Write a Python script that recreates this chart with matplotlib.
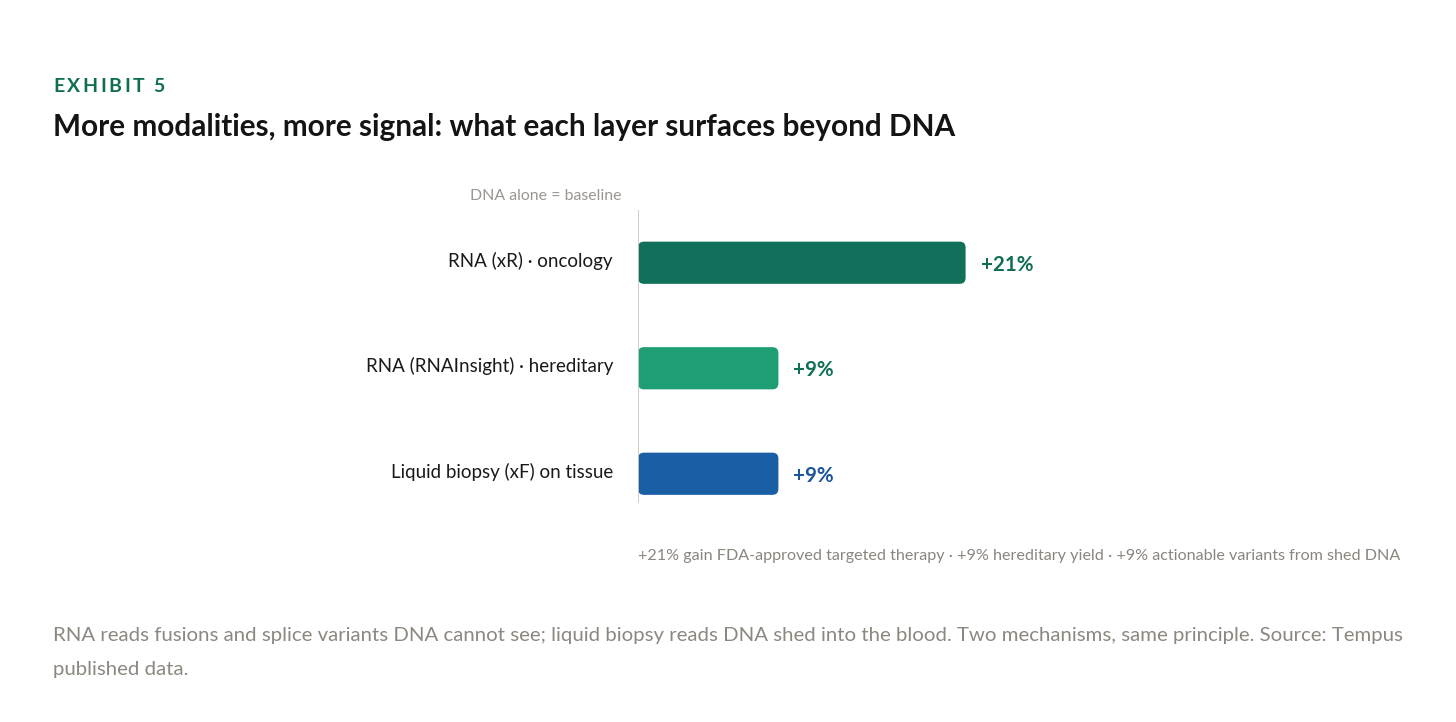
import matplotlib.pyplot as plt
from matplotlib.patches import FancyBboxPatch

plt.rcParams['font.family'] = ['Lato', 'DejaVu Sans']

categories = ["RNA (xR) \u00b7 oncology", "RNA (RNAInsight) \u00b7 hereditary", "Liquid biopsy (xF) on tissue"]
gains = [21, 9, 9]
value_labels = ["+21%", "+9%", "+9%"]
bar_colors = ["#10705a", "#1d9e75", "#1a5ea6"]
text_colors = ["#0f6e56", "#0f6e56", "#1a559b"]

W, H = 1456, 722
fig = plt.figure(figsize=(W / 100, H / 100), dpi=100)

def fy(py):
    return 1 - py / H

# axes: baseline at x=638px, rows 105.5px apart
px_per_unit = 15.6
ax = fig.add_axes([638 / W, fy(526.5), 1 - 638 / W, 316.5 / H])
ax.set_xlim(0, (W - 638) / px_per_unit)
ax.set_ylim(2.5, -0.5)
ax.axis("off")

bar_h = 0.4
r_px = 6
aspect = px_per_unit / 105.5
for i, (v, c) in enumerate(zip(gains, bar_colors)):
    p = FancyBboxPatch((0, i - bar_h / 2), v, bar_h,
                       boxstyle=f"round,pad=0,rounding_size={r_px / px_per_unit}",
                       mutation_aspect=aspect, fc=c, ec="none")
    ax.add_patch(p)
    ax.text(v + 15 / px_per_unit, i + 0.02, value_labels[i], color=text_colors[i],
            fontsize=14.8, fontweight="bold", va="center", ha="left")
    ax.text(-25 / px_per_unit, i - 0.02, categories[i], color="#1a1a1a",
            fontsize=13.5, va="center", ha="right", clip_on=False)

ax.axvline(0, ymin=(526.5 - 502) / 316.5, ymax=1, color="#cdc8bf", lw=1.3)

# letter-spaced kicker
renderer = fig.canvas.get_renderer()
x = 53
for ch in "EXHIBIT 5":
    t = fig.text(x / W, fy(86), ch, color="#0f6e4e", fontsize=14,
                 fontweight="bold", va="center", ha="left")
    x += t.get_window_extent(renderer).width + 2.6 if ch != " " else 6.5

fig.text(53 / W, fy(127), "More modalities, more signal: what each layer surfaces beyond DNA",
         color="#141414", fontsize=21.4, fontweight="bold", va="center", ha="left")
fig.text(621 / W, fy(196), "DNA alone = baseline", color="#9a9690", fontsize=11.4,
         va="center", ha="right")
fig.text(638 / W, fy(556),
         "+21% gain FDA-approved targeted therapy \u00b7 +9% hereditary yield \u00b7 +9% actionable variants from shed DNA",
         color="#8a857d", fontsize=11.6, va="center", ha="left")
fig.text(53 / W, fy(636),
         "RNA reads fusions and splice variants DNA cannot see; liquid biopsy reads DNA shed into the blood. Two mechanisms, same principle. Source: Tempus",
         color="#8c877f", fontsize=14.7, va="center", ha="left")
fig.text(53 / W, fy(669), "published data.", color="#8c877f", fontsize=14.7,
         va="center", ha="left")

fig.savefig("out.png", dpi=100, facecolor="white")
